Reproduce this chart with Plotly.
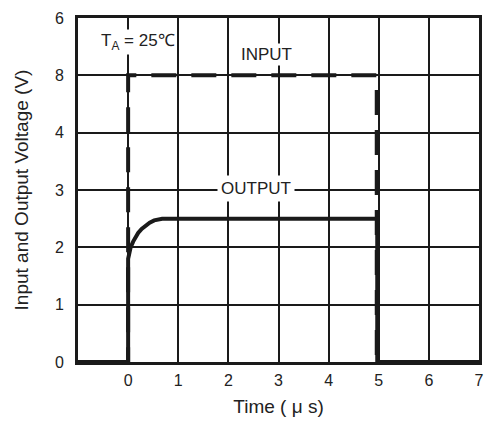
import plotly.graph_objects as go

# Data
input_t = [-1, 0, 0, 4.96, 4.96, 7]
input_v = [0, 0, 5, 5, 0, 0]

output_t = [-1, 0, 0, 0.02, 0.05, 0.1, 0.15, 0.2, 0.27, 0.35, 0.43, 0.52, 0.6, 0.68, 0.76, 4.97, 4.97, 7]
output_v = [0, 0, 1.8, 1.9, 2.0, 2.1, 2.18, 2.25, 2.32, 2.38, 2.43, 2.47, 2.49, 2.5, 2.5, 2.5, 0, 0]

x_ticks = [0, 1, 2, 3, 4, 5, 6, 7]
x_labels = ["0", "1", "2", "3", "4", "5", "6", "7"]
y_ticks = [0, 1, 2, 3, 4, 5, 6]
y_labels = ["0", "1", "2", "3", "4", "8", "6"]

FONT = "Liberation Sans, Arial, sans-serif"
TXT = "#222"

fig = go.Figure()
fig.add_trace(go.Scatter(x=input_t, y=input_v, mode="lines",
                         line=dict(color="#1a1a1a", width=4, dash="25px,15px"),
                         showlegend=False, hoverinfo="skip"))
fig.add_trace(go.Scatter(x=output_t, y=output_v, mode="lines",
                         line=dict(color="#1a1a1a", width=4),
                         showlegend=False, hoverinfo="skip"))

fig.add_annotation(x=0.2, y=5.58, text="T<sub>A</sub> = 25℃", showarrow=False,
                   bgcolor="white", font=dict(family=FONT, size=17, color=TXT))
fig.add_annotation(x=2.77, y=5.37, text="INPUT", showarrow=False,
                   bgcolor="white", font=dict(family=FONT, size=17, color=TXT))
fig.add_annotation(x=2.55, y=3.02, text="OUTPUT", showarrow=False,
                   bgcolor="white", borderpad=3, font=dict(family=FONT, size=17, color=TXT))

axis_common = dict(showline=True, linewidth=3, linecolor="#1a1a1a", mirror=True,
                   showgrid=True, gridcolor="#1a1a1a", gridwidth=1.5,
                   zeroline=False, ticks="", tickfont=dict(family=FONT, size=16, color=TXT))

fig.update_xaxes(range=[-1, 7], tickvals=x_ticks, ticktext=x_labels, ticklabelstandoff=2,
                 title=dict(text="Time ( μ s)", font=dict(family=FONT, size=19, color=TXT), standoff=12),
                 **axis_common)
fig.update_yaxes(range=[0, 6], tickvals=y_ticks, ticktext=y_labels, ticklabelstandoff=8,
                 title=dict(text="Input and Output Voltage (V)", font=dict(family=FONT, size=19, color=TXT), standoff=22),
                 **axis_common)

fig.update_layout(width=489, height=423, margin=dict(l=78, r=5, t=18, b=61),
                  plot_bgcolor="white", paper_bgcolor="white",
                  font=dict(family=FONT))

fig.write_html("out.html", config={"displayModeBar": False},
               post_script="document.body.style.margin='0';document.body.style.overflow='hidden';")
